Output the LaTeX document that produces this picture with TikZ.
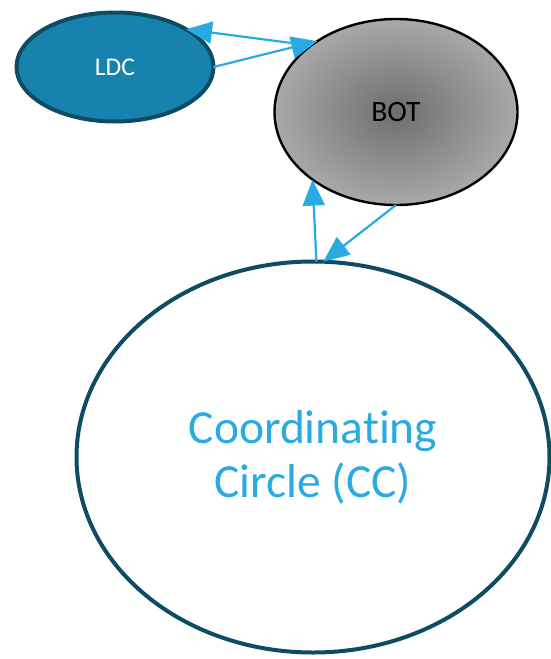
\documentclass[tikz,border=0pt]{standalone}
\usepackage{fontspec}
\setmainfont{Carlito}[Ligatures=NoCommon]
\usepackage{tikz}
\usetikzlibrary{shapes.geometric,arrows.meta}
\definecolor{ldcblue}{HTML}{1682AD}
\definecolor{rimblue}{HTML}{0E4C63}
\definecolor{ccblue}{HTML}{29ABE2}
\tikzstyle{bubble}=[ellipse, draw, inner sep=0pt, outer sep=0pt]
\tikzstyle{link}=[draw=ccblue, line width=2.2pt, -{Triangle[length=26pt,width=22pt]}]
\providecommand{\bubble}{\node[bubble]}

\begin{document}
\begin{tikzpicture}[x=1pt, y=-1pt]
\useasboundingbox (0,0) rectangle (551,659);
\bubble (LDC) at (115,67) [fill=ldcblue, draw=rimblue, line width=4pt, minimum width=197pt, minimum height=109pt, text=white, font=\fontsize{25.5}{30}\selectfont] {LDC};
\bubble (BOT) at (396,112) [shading=radial, inner color=black!57, outer color=black!34, draw=black, line width=2.4pt, minimum width=243pt, minimum height=186pt, font=\fontsize{29.5}{34}\selectfont] {BOT};
\bubble (CC) at (313,457) [draw=rimblue, line width=4pt, minimum width=473pt, minimum height=391pt, text=ccblue, align=center, font=\fontsize{47.5}{54}\selectfont] {Coordinating\\Circle (CC)};
\draw[link] (BOT.142) -- (LDC.28);
\draw[link] (LDC.east) -- (BOT.138);
\draw[link] (CC.89) -- (BOT.219);
\draw[link] (BOT.south) -- (CC.87);
\end{tikzpicture}
\end{document}
